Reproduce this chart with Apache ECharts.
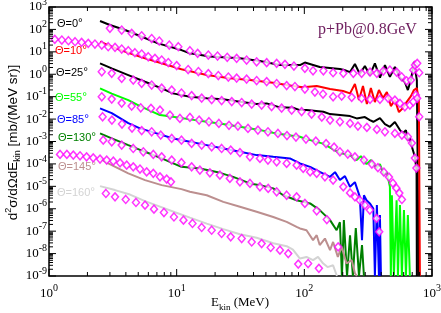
<!DOCTYPE html>
<html><head><meta charset="utf-8">
<script src="https://cdn.jsdelivr.net/npm/echarts@6/dist/echarts.min.js"></script>
<style>html,body{margin:0;padding:0;background:#fff}#c{width:441px;height:313px}</style>
</head><body><div id="c"></div>
<script>
// ---- data (E in MeV, d2sigma/dOmega dE in mb/(MeV sr)) ----
const angleLabels = ['Θ=0', 'Θ=10', 'Θ=25', 'Θ=55', 'Θ=85', 'Θ=130', 'Θ=145', 'Θ=160'];

const model0 = [[2.51,237],[3.0,157],[3.94,94],[5.16,50.7],[7.14,23.9],[10.9,12.0],[12.7,8.57],[18.2,6.17],[31.3,5.13],[44.9,3.89],[64.4,2.58],[92.4,2.58],[101,3.33],[132,2.10],[190,1.71],[208,1.5],[228,1.25],[249,2.85],[272,1.02],[298,2.32],[326,0.92],[357,3.07],[391,0.71],[428,2.58],[468,0.77],[512,2.10],[561,0.70],[613,0.449],[647,0.197],[684,0.55],[722,3.51],[748,3.51],[761,0.55],[776,2.4e-6],[782,1e-9]];
const exp0 = [[3.00,112],[3.71,94],[4.44,67],[5.32,52],[6.37,39.3],[7.31,30.3],[8.75,20.1],[10.3,16.9],[12.7,11.2],[14.6,8.57],[17.7,7.2],[20.9,6.5],[24.9,5.7],[29.5,5.13],[35.3,4.3],[42.3,3.6],[50.7,3.3],[60.7,3.07],[70.5,2.77],[82.9,2.32],[101,1.83],[117,1.43],[141,1.43],[168,1.17],[202,1.10],[242,1.10],[281,1.10],[327,1.25],[370,1.10],[415,1.39],[468,1.54],[528,1.25],[578,0.77],[632,0.51],[684,0.55],[713,1.54],[735,2.58],[766,3.07],[794,1.17]];

const model10 = [[2.51,28.3],[3.10,16.9],[4.18,9.12],[5.65,5.13],[7.63,3.07],[10.9,1.66],[17.2,0.92],[26.1,0.656],[37.5,0.55],[56.8,0.418],[81.4,0.297],[97.5,0.26],[125,0.297],[159,0.218],[201,0.178],[228,0.14],[249,0.365],[268,0.0705],[288,0.297],[309,0.0468],[332,0.242],[357,0.0574],[384,0.197],[413,0.0866],[443,0.16],[476,0.038],[512,0.0705],[551,0.0205],[592,0.031],[632,0.0574],[684,0.106],[722,0.197],[761,0.242],[789,0.0705],[804,1e-9]];
const exp10 = [[1.11,36.1],[1.26,33.6],[1.42,31.3],[1.60,28.3],[1.80,26.5],[2.03,23.9],[2.29,22.3],[2.59,20.1],[2.91,16.9],[3.29,15.9],[3.71,13.3],[4.18,11.2],[4.71,9.12],[5.32,7.98],[5.99,6.04],[6.76,5.13],[7.63,4.3],[8.6,3.33],[10.0,2.44],[12.3,1.62],[14.8,1.32],[17.7,1.07],[21.2,0.875],[25.4,0.75],[29.5,0.676],[35.3,0.61],[42.3,0.524],[50.7,0.472],[60.7,0.385],[72.7,0.313],[84.4,0.283],[101,0.218],[121,0.16],[140,0.131],[168,0.099],[196,0.106],[235,0.093],[281,0.084],[327,0.0759],[391,0.0759],[454,0.084],[512,0.0705],[561,0.0502],[613,0.0354],[671,0.0422],[713,0.0592],[748,0.118],[766,0.084],[794,0.0127]];

const model25 = [[2.51,3.07],[3.10,1.83],[4.18,0.92],[5.65,0.462],[7.63,0.235],[9.35,0.14],[12.7,0.099],[17.2,0.084],[23.0,0.0759],[31.3,0.0592],[42.3,0.0468],[50.7,0.0502],[64.4,0.0333],[81.4,0.0319],[92.4,0.0252],[104,0.0252],[141,0.0212],[159,0.0167],[190,0.0151],[228,0.0136],[257,0.0107],[298,0.0123],[326,0.009],[347,0.0076],[391,0.0111],[428,0.006],[468,0.00453],[512,0.00735],[561,0.00323],[592,0.00237],[625,0.00323],[647,0.00115],[671,0.00142],[696,0.00058],[734,0.000207],[757,5.3e-5],[761,1e-9]];
const exp25 = [[2.59,1.29],[3.10,1.10],[3.71,0.656],[4.57,0.55],[5.32,0.393],[6.37,0.33],[7.63,0.242],[9.14,0.197],[10.9,0.145],[13.1,0.112],[15.7,0.0866],[18.8,0.0743],[22.5,0.067],[27.0,0.0604],[32.3,0.0546],[38.7,0.0468],[46.3,0.0422],[55.4,0.0361],[66.4,0.031],[79.6,0.0252],[95.2,0.0216],[114,0.0167],[137,0.0123],[159,0.009],[190,0.0076],[228,0.00643],[263,0.00487],[309,0.00426],[370,0.00347],[428,0.00271],[512,0.0023],[581,0.00193],[647,0.00162],[696,0.00085],[734,0.000182],[755,6.5e-5]];

const model55 = [[2.51,0.235],[3.10,0.137],[4.18,0.0705],[5.16,0.038],[7.40,0.0151],[9.35,0.0127],[12.7,0.0097],[17.2,0.0076],[23.0,0.006],[31.3,0.00453],[42.3,0.00347],[56.8,0.00245],[72.7,0.00193],[92.4,0.00162],[104,0.00128],[140,0.000806],[190,0.000303],[228,0.000247],[257,0.000148],[277,0.000223],[307,9.8e-5],[332,0.000148],[368,6.5e-5],[391,9.8e-5],[420,3.16e-5],[443,4.3e-5],[468,9.5e-6],[476,1e-9],[485,4.0e-6],[503,1e-9],[528,2.4e-6],[541,1e-9],[561,1.45e-6],[581,1e-9],[603,8.7e-7],[625,1e-9],[647,5.2e-7],[671,1e-9]];
const exp55 = [[2.59,0.099],[3.1,0.0782],[3.71,0.0518],[4.44,0.038],[5.23,0.0319],[6.29,0.0301],[7.40,0.0252],[8.86,0.0151],[10.6,0.0107],[12.7,0.0119],[15.0,0.009],[17.9,0.0076],[21.4,0.00643],[25.7,0.00524],[30.2,0.00487],[36.2,0.00385],[43.3,0.00323],[51.9,0.00271],[62.1,0.0023],[73.1,0.00183],[86,0.00157],[103,0.00128],[123,0.00104],[148,0.000806],[171,0.000562],[190,0.000347],[219,0.000274],[249,0.000207],[293,0.000148],[338,9.8e-5],[377,6.8e-5],[420,4.3e-5],[460,2.58e-5],[494,1.39e-5],[526,8.3e-6],[555,5.0e-6],[581,2.6e-6]];

const model85 = [[2.51,0.0301],[3.10,0.0185],[4.18,0.0066],[5.16,0.00385],[6.97,0.0023],[9.4,0.00137],[12.7,0.00097],[17.2,0.00069],[23.2,0.00049],[31.3,0.000347],[42.3,0.000247],[57.1,0.000207],[77.1,0.000176],[92.4,0.000105],[111,7.4e-5],[132,4.4e-5],[159,2.65e-5],[174,4.3e-5],[190,1.9e-5],[208,2.85e-5],[228,9.5e-6],[249,1.54e-5],[272,3.4e-6],[283,4.0e-8],[293,4.0e-6],[307,2.4e-6],[326,1.73e-6],[347,1.03e-6],[357,1e-9],[370,1.45e-6],[384,1e-9],[391,5.2e-7],[398,1e-9]];
const exp85 = [[2.63,0.0127],[3.11,0.009],[3.73,0.006],[4.47,0.00396],[5.32,0.00307],[6.37,0.00271],[7.5,0.00193],[9.14,0.00137],[10.9,0.00115],[13.1,0.00082],[15.7,0.00069],[18.8,0.00058],[22.5,0.00049],[26.5,0.000413],[31.3,0.000319],[37.5,0.000207],[44.9,0.000176],[51.9,0.000148],[60.7,0.000124],[72.7,0.000105],[87,8.8e-5],[98,6.3e-5],[111,4.4e-5],[125,3.8e-5],[145,2.65e-5],[168,1.9e-5],[202,9.5e-6],[228,5.1e-6],[249,3.4e-6],[272,2.4e-6],[298,1.45e-6],[326,8.7e-7],[368,3.7e-7],[386,9.3e-8]];

const model130 = [[2.51,0.0023],[3.10,0.00137],[4.18,0.00069],[5.65,0.000347],[7.63,0.000176],[10.9,7.4e-5],[15.2,6.3e-5],[20.6,4.4e-5],[27.7,2.65e-5],[37.5,1.35e-5],[44.9,1.13e-5],[57.1,8.1e-6],[68.4,4.0e-6],[87,2.4e-6],[111,1.73e-6],[132,8.7e-7],[159,3.1e-7],[179,1.1e-7],[190,2.5e-7],[197,1e-9],[204,3.1e-7],[216,1e-9],[228,6.6e-8],[240,1e-9],[253,1.36e-7],[268,1e-9],[283,2.4e-8],[293,1e-9]];
const exp130 = [[2.66,0.00115],[3.10,0.00097],[3.71,0.00069],[4.57,0.00049],[5.48,0.000347],[6.56,0.000265],[7.63,0.000207],[9.14,0.000148],[10.9,0.000114],[13.1,7.4e-5],[15.2,5.3e-5],[18.2,4.0e-5],[21.8,3.16e-5],[26.1,2.25e-5],[31.3,1.59e-5],[37.5,1.35e-5],[44.9,9.5e-6],[52.1,8.1e-6],[60.7,5.7e-6],[72.7,4.0e-6],[87,3.4e-6],[101,1.73e-6],[125,8.1e-7],[150,3.3e-7],[184,2.0e-8]];

const model145 = [[2.51,0.000176],[2.91,0.000105],[4.18,3.8e-5],[5.65,1.9e-5],[7.63,1.13e-5],[10.9,7.5e-6],[12.7,5.7e-6],[17.2,4.0e-6],[23.2,2.03e-6],[31.3,1.22e-6],[42.3,7.3e-7],[57.1,4.3e-7],[72.7,2.6e-7],[87,1.56e-7],[92.4,1.32e-7],[104,1.1e-7],[117,4.0e-8],[125,6.6e-8],[132,2.4e-8],[145,4.7e-8],[159,1.42e-8],[168,3.3e-8],[183,7.1e-9],[196,2.0e-8],[214,3.6e-9],[235,5.1e-9],[249,1.33e-9],[258,1e-9]];
const exp145 = [[1.22,0.000265],[1.38,0.000265],[1.55,0.000247],[1.75,0.00023],[1.97,0.000207],[2.22,0.000187],[2.51,0.000164],[2.83,0.000148],[3.19,0.000133],[3.60,0.000112],[4.06,8.8e-5],[4.57,7.4e-5],[5.16,5.9e-5],[5.82,4.4e-5],[6.56,3.8e-5],[7.40,2.65e-5],[8.35,2.1e-5],[9.02,1.59e-5]];

const model160 = [[2.51,1.02e-5],[3.29,6.8e-6],[4.31,4.3e-6],[5.65,2.18e-6],[7.40,1.24e-6],[9.7,7.0e-7],[12.7,4.0e-7],[17.2,2.16e-7],[23.2,1.23e-7],[31.3,7.3e-8],[42.3,5.1e-8],[57.1,2.9e-8],[72.7,2.14e-8],[81.4,1.49e-8],[92.4,6.0e-9],[104,7.1e-9],[117,5.1e-9],[128,7.1e-9],[140,3.7e-9],[152,2.5e-9],[168,3.0e-9],[180,1e-9]];
const exp160 = [[2.79,4.8e-6],[3.29,3.4e-6],[3.99,2.6e-6],[4.80,1.91e-6],[5.65,1.45e-6],[6.64,9.6e-7],[7.95,6.8e-7],[9.52,4.3e-7],[11.3,3.1e-7],[13.3,2.2e-7],[15.7,1.46e-7],[18.8,1.1e-7],[22.5,7.9e-8],[26.5,5.6e-8],[32.3,4.7e-8],[38.7,3.3e-8],[46.3,2.8e-8],[54.5,1.87e-8],[64.4,1.42e-8],[74.8,1.0e-8],[89.6,3.4e-9],[107,3.6e-9],[130,2.2e-9]];

const xTickExp = [0, 1, 2, 3];
const yTickExp = [-9, -8, -7, -6, -5, -4, -3, -2, -1, 0, 1, 2, 3];
const titleText = 'p+Pb@0.8GeV';
const xTitle = 'E{sub|kin} (MeV)';
const yTitle = 'd{sup|2}σ/dΩdE{sub|kin} [mb/(MeV sr)]';

// ---- styling ----
const models = [model0, model10, model25, model55, model85, model130, model145, model160];
const exps = [exp0, exp10, exp25, exp55, exp85, exp130, exp145, exp160];
const colors = ['#000000', '#ff0000', '#000000', '#00ff00', '#0000ff', '#008000', '#bc8f8f', '#d3d3d3'];
const labelPos = [[57,24],[55,51],[56,73],[55,98],[57,120],[58,138],[58,167],[57,193]];

const chart = echarts.init(document.getElementById('c'), null, {renderer: 'canvas'});

const tickRich = {
  b: {fontSize: 13, fontFamily: 'Liberation Serif', lineHeight: 20, color: '#000'},
  s: {fontSize: 10, fontFamily: 'Liberation Serif', verticalAlign: 'top', color: '#000'}
};

function renderAxes(params, api) {
  const cs = params.coordSys;
  const L = cs.x, R = cs.x + cs.width, T = cs.y, B = cs.y + cs.height;
  const ch = [];
  const ln = (x1, y1, x2, y2) => ch.push({type: 'line', shape: {x1, y1, x2, y2}, style: {stroke: '#000', lineWidth: 1}});
  const MJ = 7, MN = 4;
  for (let i = 0; i < xTickExp.length; i++) {
    const base = Math.pow(10, xTickExp[i]);
    const px = api.coord([base, 1])[0];
    ln(px, B, px, B - MJ); ln(px, T, px, T + MJ);
    ch.push({type: 'text', x: px, y: B + 7.5, style: {text: '{b|10}{s|' + xTickExp[i] + '}', align: 'center', verticalAlign: 'top', rich: tickRich}});
    if (i < xTickExp.length - 1) {
      for (let k = 2; k <= 9; k++) {
        const mx = api.coord([k * base, 1])[0];
        ln(mx, B, mx, B - MN); ln(mx, T, mx, T + MN);
      }
    }
  }
  for (let i = 0; i < yTickExp.length; i++) {
    const base = Math.pow(10, yTickExp[i]);
    const py = api.coord([1, base])[1];
    ln(L, py, L + MJ, py); ln(R, py, R - MJ, py);
    ch.push({type: 'text', x: L - 2, y: py, style: {text: '{b|10}{s|' + yTickExp[i] + '}', align: 'right', verticalAlign: 'middle', rich: tickRich}});
    if (i < yTickExp.length - 1) {
      for (let k = 2; k <= 9; k++) {
        const my = api.coord([1, k * base])[1];
        ln(L, my, L + MN, my); ln(R, my, R - MN, my);
      }
    }
  }
  return {type: 'group', children: ch};
}

const series = [];
models.forEach((m, i) => series.push({
  type: 'line', data: m, symbol: 'none', showSymbol: false, z: 2,
  lineStyle: {color: colors[i], width: 2}, itemStyle: {color: colors[i]}, silent: true
}));
exps.forEach((e) => series.push({
  type: 'scatter', data: e, symbol: 'diamond', symbolSize: [7, 8], z: 3,
  itemStyle: {color: '#ffffff', borderColor: '#ff00ff', borderWidth: 1.5}, silent: true
}));
series.push({type: 'custom', data: [[1, 1]], renderItem: renderAxes, clip: false, z: 5, silent: true});

const graphics = [
  {type: 'text', x: 318, y: 30, style: {text: titleText, fill: '#702060', font: '16px "Liberation Serif"', align: 'left', verticalAlign: 'middle'}},
  {type: 'text', x: 240, y: 303, style: {text: xTitle, fill: '#000', font: '13px "Liberation Serif"', lineHeight: 18, align: 'center', verticalAlign: 'middle',
    rich: {sub: {fontSize: 9, fontFamily: 'Liberation Serif', verticalAlign: 'bottom'}}}},
  {type: 'text', x: 13, y: 142.5, rotation: Math.PI / 2, style: {text: yTitle, fill: '#000', font: '13.5px "Liberation Sans"', lineHeight: 18, align: 'center', verticalAlign: 'middle',
    rich: {sub: {fontSize: 9, fontFamily: 'Liberation Sans', verticalAlign: 'bottom'}, sup: {fontSize: 9, fontFamily: 'Liberation Sans', verticalAlign: 'top'}}}}
];
angleLabels.forEach((t, i) => graphics.push({
  type: 'text', x: labelPos[i][0], y: labelPos[i][1],
  style: {text: t + '{d|°}', fill: colors[i], font: '11px "Liberation Sans"', align: 'left', verticalAlign: 'middle',
    rich: {d: {fontSize: 12, fontFamily: 'Liberation Sans', verticalAlign: 'top'}}}
}));

chart.setOption({
  animation: false,
  backgroundColor: '#fff',
  grid: {left: 49, right: 9, top: 7, bottom: 37, show: true, borderColor: '#000', borderWidth: 1.5, backgroundColor: 'transparent'},
  xAxis: {type: 'log', logBase: 10, min: 1, max: 1000, axisLine: {show: false}, axisTick: {show: false}, axisLabel: {show: false}, splitLine: {show: false}},
  yAxis: {type: 'log', logBase: 10, min: 1e-9, max: 1e3, axisLine: {show: false}, axisTick: {show: false}, axisLabel: {show: false}, splitLine: {show: false}},
  series: series,
  graphic: graphics
});
</script></body></html>
